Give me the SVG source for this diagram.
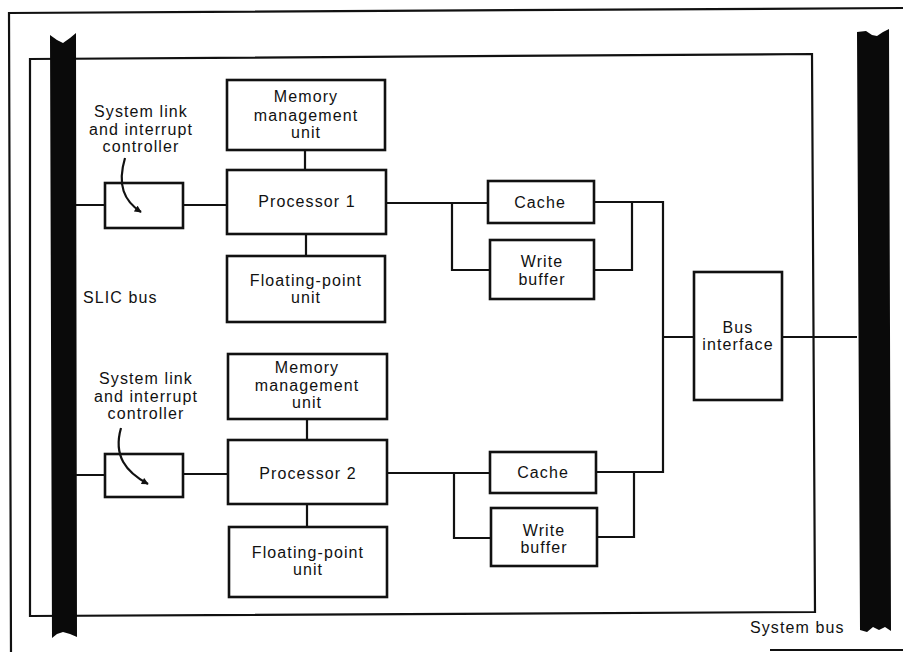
<svg xmlns="http://www.w3.org/2000/svg" width="903" height="652" viewBox="0 0 903 652">
<defs>
<style>
.box{fill:#fff;stroke:#111;stroke-width:2.6}
.frame{fill:none;stroke:#111;stroke-width:2.2}
.wire{fill:none;stroke:#111;stroke-width:2.2}
.bar{fill:#0a0a0a}
text{font-family:"Liberation Sans",Arial,sans-serif;font-size:16px;fill:#111;text-anchor:middle;letter-spacing:1.1px}
.lab{text-anchor:start}
</style>
<marker id="ah" viewBox="0 0 10 10" refX="9" refY="5" markerWidth="8" markerHeight="7" orient="auto" markerUnits="userSpaceOnUse">
<path d="M0,0 L10,5 L0,10 z" fill="#111"/>
</marker>
</defs>
<rect width="903" height="652" fill="#fff"/>
<g id="frames">
<path class="frame" d="M903,8 L9,13 L11,652"/>
<path class="frame" d="M770,650 L903,650"/>
<path class="frame" d="M30,59 L812,54 L815,612 L30,616 Z"/>
</g>
<g id="slic-bus">
<path class="bar" d="M50,35 L57,40 L63,43 L70,38 L76,33 L77,637 L70,634 L63,632 L57,634 L52,638 Z"/>
<text class="lab" x="83" y="303">SLIC bus</text>
</g>
<g id="system-bus">
<path class="bar" d="M857,32 L866,31 L872,35 L877,36 L883,32 L889,29 L891,631 L885,627 L879,630 L873,627 L867,632 L860,630 Z"/>
<text class="lab" x="750" y="633">System bus</text>
</g>
<g id="label1">
<text x="141" y="117">System link</text>
<text x="141" y="134.5">and interrupt</text>
<text x="141" y="152">controller</text>
</g>
<g id="label2">
<text x="146" y="384">System link</text>
<text x="146" y="401.5">and interrupt</text>
<text x="146" y="419">controller</text>
</g>
<g id="slic1"><rect class="box" x="105" y="183" width="78" height="45"/></g>
<g id="mmu1"><rect class="box" x="227" y="80" width="158" height="70"/>
<text x="306" y="102">Memory</text><text x="306" y="121">management</text><text x="306" y="138">unit</text></g>
<g id="proc1"><rect class="box" x="227" y="170" width="159" height="64"/>
<text x="307" y="207">Processor  1</text></g>
<g id="fpu1"><rect class="box" x="227" y="256" width="158" height="66"/>
<text x="306" y="286">Floating-point</text><text x="306" y="303">unit</text></g>
<g id="cache1"><rect class="box" x="488" y="181" width="106" height="42"/>
<text x="540" y="208">Cache</text></g>
<g id="wb1"><rect class="box" x="490" y="240" width="104" height="59"/>
<text x="542" y="267">Write</text><text x="542" y="285">buffer</text></g>
<g id="busif"><rect class="box" x="694" y="272" width="88" height="128"/>
<text x="738" y="333">Bus</text><text x="738" y="350">interface</text></g>
<g id="slic2"><rect class="box" x="105" y="454" width="78" height="43"/></g>
<g id="mmu2"><rect class="box" x="228" y="354" width="159" height="65"/>
<text x="307" y="373">Memory</text><text x="307" y="391">management</text><text x="307" y="408">unit</text></g>
<g id="proc2"><rect class="box" x="228" y="440" width="159" height="64"/>
<text x="308" y="479">Processor  2</text></g>
<g id="fpu2"><rect class="box" x="229" y="527" width="158" height="70"/>
<text x="308" y="558">Floating-point</text><text x="308" y="575">unit</text></g>
<g id="cache2"><rect class="box" x="490" y="452" width="106" height="41"/>
<text x="543" y="478">Cache</text></g>
<g id="wb2"><rect class="box" x="491" y="508" width="106" height="58"/>
<text x="544" y="536">Write</text><text x="544" y="553">buffer</text></g>
<g id="connectors">
<path class="wire" d="M76,205 H104 M184,205 H226"/>
<path class="wire" d="M305,151 V169 M306,235 V255"/>
<path class="wire" d="M387,203 H487 M452,203 V270 H489"/>
<path class="wire" d="M595,202 H663 V472 H597"/>
<path class="wire" d="M595,270 H632 V202"/>
<path class="wire" d="M663,337 H693 M783,337 H857"/>
<path class="wire" d="M76,475 H104 M184,474 H227"/>
<path class="wire" d="M307,420 V439 M307,505 V526"/>
<path class="wire" d="M388,473 H489 M454,473 V538 H490"/>
<path class="wire" d="M598,537 H634 V472"/>
<path class="wire" d="M125,158 C117,185 124,201 141,212" marker-end="url(#ah)"/>
<path class="wire" d="M121,428 C113,456 126,472 148,484" marker-end="url(#ah)"/>
</g>
</svg>
